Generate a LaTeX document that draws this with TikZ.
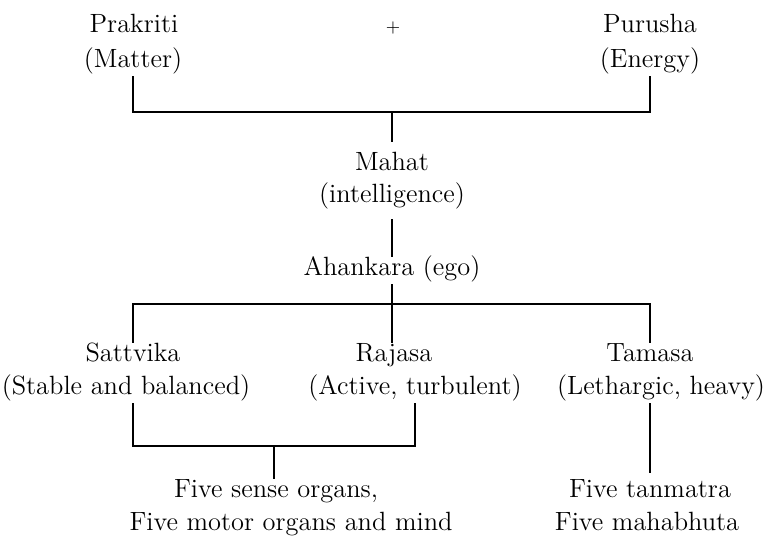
\documentclass[tikz,border=0pt]{standalone}
\begin{document}
\begin{tikzpicture}[x=0.5pt,y=-0.5pt,
	term/.style={anchor=base,inner sep=2pt,text height=0.7em,text depth=0.25em,font=\fontsize{13.2}{15}\selectfont},
	link/.style={line width=0.55pt}]
	\useasboundingbox (0,0) rectangle (776,543);
	% top row
	\node[term] (prakriti) at (134,32) {Prakriti};
	\node[term] (matter) at (133,67) {(Matter)};
	\node[anchor=center,font=\fontsize{9}{10}\selectfont] (plus) at (393,28) {+};
	\node[term] (purusha) at (650,32) {Purusha};
	\node[term] (energy) at (650,67) {(Energy)};
	\node[term] (mahat) at (392,170) {Mahat};
	\node[term] (intel) at (392,202) {(intelligence)};
	\node[term] (ahankara) at (392,275) {Ahankara (ego)};
	% gunas
	\node[term] (sattvika) at (133,361) {Sattvika};
	\node[term] (stable) at (126,394) {(Stable and balanced)};
	\node[term] (rajasa) at (394,361) {Rajasa};
	\node[term] (active) at (415,394) {(Active, turbulent)};
	\node[term] (tamasa) at (650,361) {Tamasa};
	\node[term] (lethargic) at (661,394) {(Lethargic, heavy)};
	% bottom row
	\node[term] (sense) at (276,497) {Five sense organs,};
	\node[term] (motor) at (291,530) {Five motor organs and mind};
	\node[term] (tanmatra) at (650,497) {Five tanmatra};
	\node[term] (mahabhuta) at (647,530) {Five mahabhuta};
	\coordinate (top-m) at (392,112);
	\coordinate (mid-m) at (392,304);
	\coordinate (low-m) at (274,446);
	\draw[link] (matter) |- (top-m) -| (energy);
	\draw[link,shorten >=5pt] (top-m) -- (mahat);
	\draw[link,shorten <=4pt] (intel) -- (ahankara);
	\draw[link] (ahankara) -- (mid-m);
	\draw[link] (sattvika) |- (mid-m) -| (tamasa);
	\draw[link] (mid-m) -- (mid-m |- rajasa.north);
	\draw[link] (stable.south -| sattvika) |- (low-m) -| (active);
	\draw[link] (low-m) -- (low-m |- sense.north);
	\draw[link,shorten >=3pt] (lethargic.south -| tamasa) -- (tanmatra);
\end{tikzpicture}
\end{document}
